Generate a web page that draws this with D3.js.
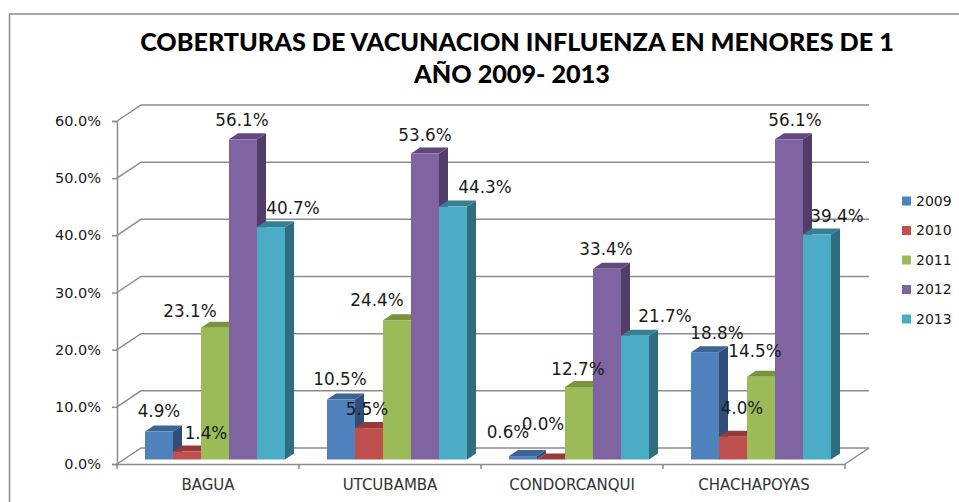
<!DOCTYPE html>
<html>
<head>
<meta charset="utf-8">
<script src="https://cdn.jsdelivr.net/npm/d3@7"></script>
<style>
    html, body { margin: 0; padding: 0; background: #fff; }
    svg { display: block; }
    text { font-family: "DejaVu Sans", sans-serif; fill: #1a1a1a; }
    .title { font-family: Lato, sans-serif; font-weight: 900; fill: #000; }
</style>
</head>
<body>
<svg id="chart" width="959" height="502"></svg>
<script>
var categories = ['BAGUA', 'UTCUBAMBA', 'CONDORCANQUI', 'CHACHAPOYAS'];
var years = ['2009', '2010', '2011', '2012', '2013'];
var values2009 = [4.9, 10.5, 0.6, 18.8];
var values2010 = [1.4, 5.5, 0.0, 4.0];
var values2011 = [23.1, 24.4, 12.7, 14.5];
var values2012 = [56.1, 53.6, 33.4, 56.1];
var values2013 = [40.7, 44.3, 21.7, 39.4];
var yTicks = [0, 10, 20, 30, 40, 50, 60];
var titleLines = ['COBERTURAS DE VACUNACION INFLUENZA EN MENORES DE 1', 'AÑO 2009- 2013'];

var seriesValues = [values2009, values2010, values2011, values2012, values2013];
var colors = ['#4f81bd', '#c0504d', '#9bbb59', '#8064a2', '#4bacc6'];
var sideColors = ['#2f4f78', '#7c2f2d', '#64792f', '#523d69', '#2f6e80'];
var topColors = ['#3c6594', '#963a38', '#79933f', '#63487f', '#377f93'];

// hand placed labels in the original, offsets from the top of each bar [series][category]
var labelDx = [
    [0, -1, -15, 12],
    [19, -2, -8, 9],
    [-25, -20, -1, -6],
    [-1, 0, -1, 6],
    [22, 32, 30, 20]
];
var labelDy = [
    [-20, -20, -24, -19],
    [-18, -19, -35, -29],
    [-17, -20, -18, -26],
    [-19, -18, -20, -19],
    [-19, -20, -20, -18]
];

var svg = d3.select('#chart');

var frontLeft = 117, frontRight = 845;
var depthX = 24, depthY = -16;
var barDepthX = 9, barDepthY = -6;
var gridColor = '#8c8c8c';

var x = d3.scaleBand().domain(categories).range([frontLeft, frontRight]);
var barX = d3.scaleBand().domain(years).range([28, 168]);
var y = d3.scaleLinear().domain([0, 60]).range([459.5, 117]);
var axisY = d3.scaleLinear().domain([0, 60]).range([464, 121]);

// outer border runs off the right and bottom of the picture
svg.append('rect')
    .attr('x', 9.5).attr('y', 14)
    .attr('width', 960).attr('height', 500)
    .attr('fill', '#fff').attr('stroke', '#8a8a8a').attr('stroke-width', 1.5);

svg.selectAll('.title').data(titleLines).enter().append('text')
    .attr('class', 'title')
    .attr('x', function (d, i) { return i == 0 ? 517 : 512; })
    .attr('y', function (d, i) { return 51 + i * 32; })
    .attr('text-anchor', 'middle')
    .attr('font-size', 25.2)
    .text(function (d) { return d; });

// back wall and floor lines
var grid = svg.append('g').attr('fill', 'none').attr('stroke', gridColor).attr('stroke-width', 1.5);
grid.selectAll('path').data(yTicks).enter().append('path')
    .attr('d', function (d) {
        var py = axisY(d);
        return 'M' + frontLeft + ',' + py + 'L' + (frontLeft + depthX) + ',' + (py + depthY) + 'H' + (frontRight + depthX);
    });
grid.append('path')
    .attr('d', 'M' + frontRight + ',' + axisY(0) + 'L' + (frontRight + depthX) + ',' + (axisY(0) + depthY));

var yAxis = d3.axisLeft(axisY).tickValues(yTicks).tickSize(5).tickPadding(11)
    .tickFormat(function (d) { return d.toFixed(1) + '%'; });
var yG = svg.append('g').attr('transform', 'translate(' + frontLeft + ',0)').call(yAxis);
yG.selectAll('text').attr('font-size', 14.5).style('font-family', '"DejaVu Sans", sans-serif');
yG.selectAll('line').attr('stroke', gridColor).attr('stroke-width', 1.5);
yG.select('.domain').attr('stroke', gridColor).attr('stroke-width', 1.5);

var xAxis = d3.axisBottom(x).tickSize(0).tickPadding(15);
var xG = svg.append('g').attr('transform', 'translate(0,' + axisY(0) + ')').call(xAxis);
xG.selectAll('text').attr('font-size', 15).style('fill', '#333').style('font-family', '"DejaVu Sans", sans-serif');
xG.select('.domain').attr('stroke', gridColor).attr('stroke-width', 1.5);
xG.append('g').selectAll('line').data(d3.range(categories.length + 1)).enter().append('line')
    .attr('x1', function (d) { return frontLeft + d * x.step(); })
    .attr('x2', function (d) { return frontLeft + d * x.step(); })
    .attr('y1', 0).attr('y2', 5)
    .attr('stroke', gridColor).attr('stroke-width', 1.5);

// bars, back series first so the fronts overlap the side faces
var bars = svg.append('g');
categories.forEach(function (cat, c) {
    years.forEach(function (year, s) {
        var v = seriesValues[s][c];
        var x0 = x(cat) + barX(year), w = barX.bandwidth();
        var y0 = y(0), yt = y(v);
        var g = bars.append('g');
        g.append('path').attr('fill', sideColors[s])
            .attr('d', 'M' + (x0 + w) + ',' + y0 + 'V' + yt + 'l' + barDepthX + ',' + barDepthY + 'V' + (y0 + barDepthY) + 'Z');
        g.append('path').attr('fill', topColors[s])
            .attr('d', 'M' + x0 + ',' + yt + 'h' + w + 'l' + barDepthX + ',' + barDepthY + 'h' + (-w) + 'Z');
        g.append('rect').attr('fill', colors[s])
            .attr('x', x0).attr('y', yt).attr('width', w).attr('height', y0 - yt);
    });
});

// data labels on top of all bars
categories.forEach(function (cat, c) {
    years.forEach(function (year, s) {
        var v = seriesValues[s][c];
        svg.append('text')
            .attr('x', x(cat) + barX(year) + barX.bandwidth() / 2 + labelDx[s][c])
            .attr('y', y(v) + labelDy[s][c])
            .attr('dy', '0.35em')
            .attr('text-anchor', 'middle')
            .attr('font-size', 16.8)
            .text(v.toFixed(1) + '%');
    });
});

var legend = svg.append('g').selectAll('g').data(years).enter().append('g')
    .attr('transform', function (d, i) { return 'translate(902,' + (201 + i * 29.5) + ')'; });
legend.append('rect')
    .attr('x', 0).attr('y', -4.5).attr('width', 9).attr('height', 9)
    .attr('fill', function (d, i) { return colors[i]; });
legend.append('text')
    .attr('x', 14).attr('dy', '0.35em')
    .attr('font-size', 14)
    .text(function (d) { return d; });
</script>
</body>
</html>
